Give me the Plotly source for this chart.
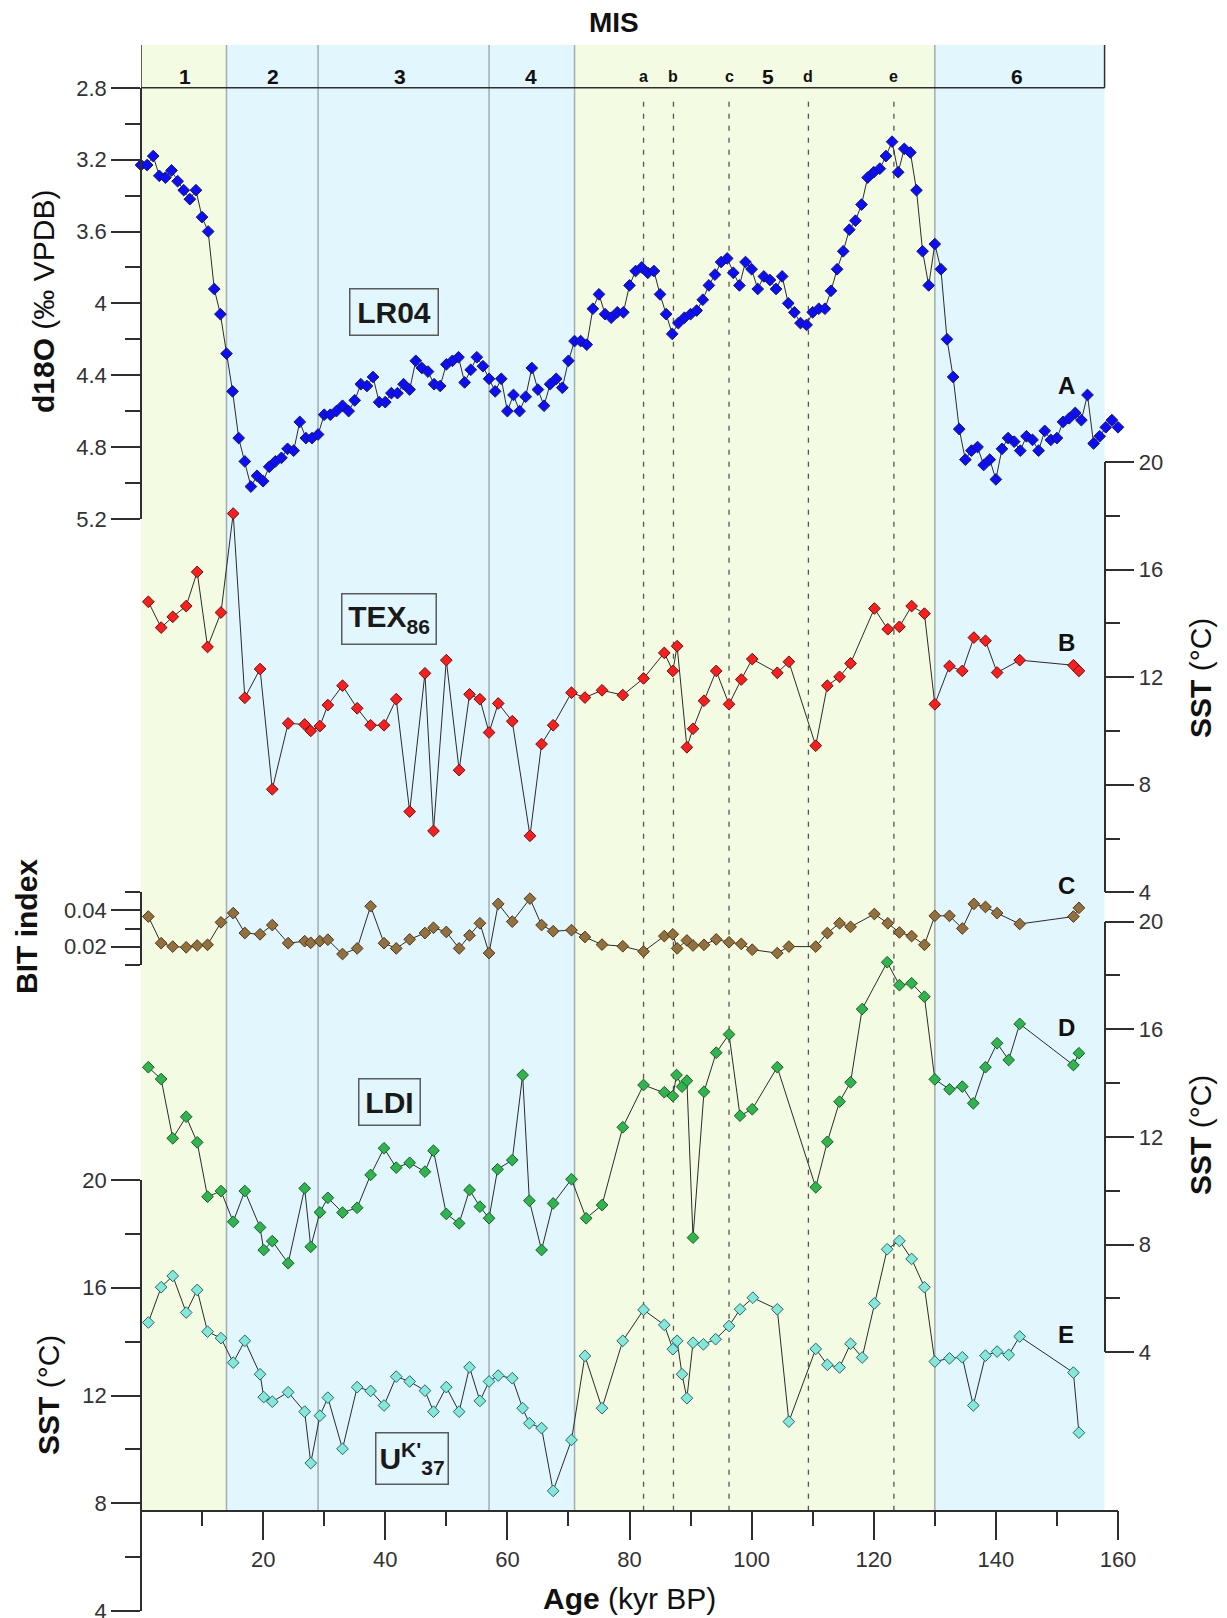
import plotly.graph_objects as go

# ---------------- data ----------------
d18o_age = [0, 1, 2, 3, 4, 5, 6, 7, 8, 9, 10, 11, 12, 13, 14, 15, 16, 17, 18, 19,
            20, 21, 22, 23, 24, 25, 26, 27, 28, 29, 30, 31, 32, 33, 34, 35, 36, 37, 38, 39,
            40, 41, 42, 43, 44, 45, 46, 47, 48, 49, 50, 51, 52, 53, 54, 55, 56, 57, 58, 59,
            60, 61, 62, 63, 64, 65, 66, 67, 68, 69, 70, 71, 72, 73, 74, 75, 76, 77, 78, 79,
            80, 81, 82, 83, 84, 85, 86, 87, 88, 89, 90, 91, 92, 93, 94, 95, 96, 97, 98, 99,
            100, 101, 102, 103, 104, 105, 106, 107, 108, 109, 110, 111, 112, 113, 114, 115,
            116, 117, 118, 119, 120, 121, 122, 123, 124, 125, 126, 127, 128, 129, 130, 131,
            132, 133, 134, 135, 136, 137, 138, 139, 140, 141, 142, 143, 144, 145, 146, 147,
            148, 149, 150, 151, 152, 153, 154, 155, 156, 157, 158, 159, 160]
d18o_val = [3.23, 3.23, 3.18, 3.29, 3.30, 3.26, 3.32, 3.37, 3.42, 3.37, 3.52, 3.60, 3.92, 4.06,
            4.28, 4.49, 4.75, 4.88, 5.02, 4.96, 4.99, 4.91, 4.88, 4.86, 4.81, 4.82, 4.66, 4.75,
            4.75, 4.73, 4.62, 4.62, 4.60, 4.57, 4.60, 4.54, 4.45, 4.46, 4.41, 4.55, 4.55, 4.50,
            4.50, 4.45, 4.48, 4.32, 4.36, 4.38, 4.45, 4.46, 4.34, 4.32, 4.30, 4.44, 4.37, 4.30,
            4.35, 4.42, 4.49, 4.42, 4.60, 4.51, 4.60, 4.52, 4.36, 4.48, 4.57, 4.45, 4.42, 4.47,
            4.32, 4.21, 4.21, 4.23, 4.03, 3.95, 4.06, 4.08, 4.05, 4.05, 3.90, 3.82, 3.80, 3.83,
            3.82, 3.95, 4.06, 4.17, 4.11, 4.08, 4.06, 4.04, 3.98, 3.90, 3.84, 3.77, 3.75, 3.83,
            3.90, 3.77, 3.81, 3.92, 3.85, 3.87, 3.92, 3.85, 4.00, 4.05, 4.11, 4.12, 4.05, 4.03,
            4.03, 3.93, 3.81, 3.71, 3.59, 3.54, 3.45, 3.30, 3.27, 3.25, 3.18, 3.10, 3.27, 3.14,
            3.16, 3.37, 3.71, 3.90, 3.67, 3.81, 4.20, 4.41, 4.70, 4.87, 4.82, 4.80, 4.90, 4.87,
            4.98, 4.81, 4.75, 4.77, 4.82, 4.74, 4.76, 4.82, 4.71, 4.76, 4.75, 4.66, 4.64, 4.61,
            4.65, 4.51, 4.78, 4.74, 4.69, 4.65, 4.69]

gdgt_age = [1.2, 3.3, 5.2, 7.4, 9.2, 10.9, 13.1, 15.1, 17.0, 19.5, 21.5, 24.1, 26.8, 27.8,
            29.3, 30.6, 33.0, 35.4, 37.6, 39.8, 41.8, 44.0, 46.5, 47.9, 50.0, 52.1, 53.8, 55.5,
            57.0, 58.5, 60.8, 63.7, 65.6, 67.5, 70.5, 72.7, 75.5, 78.9, 82.3, 85.7, 87.1, 87.8,
            89.4, 90.4, 92.2, 94.2, 96.3, 98.3, 100.1, 104.2, 106.1, 110.5, 112.4, 114.4, 116.2,
            120.1, 122.3, 124.2, 126.2, 128.3, 130.0, 132.4, 134.5, 136.4, 138.3, 140.2, 143.9,
            152.7, 153.6]
tex86_sst = [14.8, 13.84, 14.24, 14.64, 15.91, 13.12, 14.40, 18.08, 11.23, 12.30, 7.83, 10.28,
             10.24, 10.00, 10.18, 10.96, 11.68, 10.84, 10.21, 10.21, 11.18, 7.00, 12.14, 6.28,
             12.63, 8.54, 11.36, 11.18, 9.94, 11.02, 10.36, 6.10, 9.51, 10.21, 11.42, 11.24,
             11.51, 11.33, 11.95, 12.90, 12.23, 13.15, 9.39, 10.08, 11.12, 12.23, 10.99, 11.91,
             12.67, 12.16, 12.57, 9.45, 11.68, 12.01, 12.51, 14.55, 13.78, 13.87, 14.64, 14.36,
             10.99, 12.41, 12.23, 13.47, 13.35, 12.17, 12.63, 12.44, 12.23]
bit_index = [0.0366, 0.0219, 0.0200, 0.0196, 0.0206, 0.0210, 0.0334, 0.0385, 0.0275, 0.0268,
             0.0319, 0.0219, 0.0230, 0.0221, 0.0230, 0.0238, 0.0159, 0.0190, 0.0423, 0.0219,
             0.0190, 0.0240, 0.0275, 0.0304, 0.0281, 0.0190, 0.0262, 0.0329, 0.0164, 0.0436,
             0.0338, 0.0465, 0.0319, 0.0285, 0.0291, 0.0253, 0.0211, 0.0202, 0.0173, 0.0258,
             0.0268, 0.0190, 0.0234, 0.0206, 0.0210, 0.0240, 0.0224, 0.0215, 0.0183, 0.0164,
             0.0200, 0.0200, 0.0275, 0.0329, 0.0309, 0.0380, 0.0329, 0.0278, 0.0258, 0.0210,
             0.0370, 0.0370, 0.0300, 0.0436, 0.0419, 0.0385, 0.0325, 0.0366, 0.0414]

ldi_age = [1.2, 3.3, 5.2, 7.4, 9.2, 10.9, 13.1, 15.1, 17.0, 19.5, 20.1, 21.5, 24.1, 26.8, 27.8,
           29.3, 30.6, 33.0, 35.4, 37.6, 39.8, 41.8, 44.0, 46.5, 47.9, 50.0, 52.1, 53.8, 55.5,
           57.0, 58.4, 60.8, 62.5, 63.6, 65.6, 67.5, 70.5, 72.9, 75.5, 78.9, 82.3, 85.7, 87.1,
           87.7, 88.6, 89.4, 90.4, 92.2, 94.2, 96.3, 98.1, 100.1, 104.2, 110.5, 112.4, 114.4,
           116.2, 118.1, 122.2, 124.2, 126.2, 128.3, 130.0, 132.4, 134.5, 136.3, 138.3, 140.2,
           142.1, 143.9, 152.7, 153.6]
ldi_sst = [14.59, 14.15, 11.95, 12.75, 11.80, 9.78, 9.99, 8.85, 9.99, 8.64, 7.80, 8.13, 7.31,
           10.09, 7.92, 9.20, 9.74, 9.19, 9.37, 10.59, 11.58, 10.86, 11.04, 10.71, 11.49, 9.14,
           8.79, 10.03, 9.41, 8.98, 10.80, 11.14, 14.30, 9.63, 7.80, 9.53, 10.43, 8.98, 9.47,
           12.36, 13.93, 13.66, 13.52, 14.30, 13.87, 14.09, 8.26, 13.68, 15.13, 15.81, 12.79,
           13.03, 14.59, 10.13, 11.82, 13.31, 14.03, 16.75, 18.49, 17.64, 17.71, 17.21, 14.14,
           13.77, 13.87, 13.25, 14.59, 15.48, 14.86, 16.20, 14.67, 15.11]

uk37_age = [1.2, 3.3, 5.2, 7.4, 9.2, 10.9, 13.1, 15.1, 17.0, 19.5, 20.1, 21.5, 24.1, 26.8, 27.8,
            29.3, 30.6, 33.0, 35.4, 37.6, 39.8, 41.8, 44.0, 46.5, 47.9, 50.0, 52.1, 53.8, 55.5,
            57.0, 58.5, 60.8, 62.5, 63.6, 65.6, 67.5, 70.5, 72.7, 75.5, 78.9, 82.3, 85.7, 87.1,
            87.8, 88.6, 89.4, 90.4, 92.1, 94.1, 96.3, 98.1, 100.2, 104.2, 106.1, 110.5, 112.4,
            114.4, 116.2, 118.1, 120.1, 122.2, 124.2, 126.2, 128.3, 130.0, 132.4, 134.5, 136.3,
            138.3, 140.2, 142.1, 143.9, 152.7, 153.6]
uk37_sst = [14.71, 16.02, 16.44, 15.08, 15.92, 14.37, 14.13, 13.22, 14.03, 12.79, 11.94, 11.77,
            12.12, 11.40, 9.49, 11.25, 11.92, 10.02, 12.31, 12.17, 11.63, 12.70, 12.52, 12.18,
            11.40, 12.31, 11.40, 13.05, 11.80, 12.52, 12.74, 12.64, 11.53, 10.97, 10.79, 8.46,
            10.35, 13.47, 11.53, 14.03, 15.18, 14.62, 13.72, 14.03, 12.79, 11.90, 13.96, 13.90,
            14.09, 14.58, 15.20, 15.63, 15.20, 11.03, 13.73, 13.14, 13.04, 13.92, 13.41, 15.42,
            17.43, 17.74, 17.07, 16.02, 13.26, 13.38, 13.42, 11.63, 13.48, 13.63, 13.51, 14.19,
            12.85, 10.62]

# Marine isotope stages
mis_start = [0, 14, 29, 57, 71, 130]
mis_end = [14, 29, 57, 71, 130, 157.8]
mis_label = ["1", "2", "3", "4", "5", "6"]
mis_label_age = [7.2, 21.6, 42.4, 63.9, 102.7, 143.5]
mis_warm = [True, False, False, False, True, False]
sub_label = ["a", "b", "c", "d", "e"]
sub_age = [82.3, 87.2, 96.3, 109.3, 123.3]

age_ticks = [20, 40, 60, 80, 100, 120, 140, 160]
age_minor = [10, 30, 50, 70, 90, 110, 130, 150]
d18o_ticks = [2.8, 3.2, 3.6, 4.0, 4.4, 4.8, 5.2]
d18o_ticktext = ["2.8", "3.2", "3.6", "4", "4.4", "4.8", "5.2"]
d18o_minor = [3.0, 3.4, 3.8, 4.2, 4.6, 5.0]
bit_ticks = [0.02, 0.04]
bit_ticktext = ["0.02", "0.04"]
bit_minor = [0.01, 0.03, 0.05]
sst_ticks = [4, 8, 12, 16, 20]
sst_ticktext = ["4", "8", "12", "16", "20"]
sst_minor = [6, 10, 14, 18]

# ---------------- layout geometry ----------------
# the page body adds an 8 px margin, so the figure is drawn 8 px right / down
OFF = 8
W, H = 1227 - OFF, 1618 - OFF
PL, PT, PB = 141, 45, 1611          # plot box in page pixels (left, top, bottom)
PR = 1117.7                         # age 160 in page pixels
ML, MT = PL - OFF, PT - OFF
PW = round(PR - PL)
PH = PB - PT
MR = W - ML - PW
MB = H - MT - PH
AGE_MAX = 160.0


def px(x):
    return (x - PL) / PW


def py(y):
    return (PB - y) / PH


FONT = "Liberation Sans, Arial, sans-serif"
AX = "#2e2e2e"
TICKFONT = dict(family=FONT, size=22, color="#333333")

x_axis_y = py(1510.7)
right_pos = 157.8 / AGE_MAX


def yaxis(dom, rng, tv, tt, mv, side, pos):
    return dict(domain=dom, range=rng, anchor="free", position=pos, side=side,
                showline=True, linecolor=AX, linewidth=1.5,
                ticks="outside", ticklen=29, tickwidth=1.5, tickcolor=AX,
                tickmode="array", tickvals=tv, ticktext=tt, tickfont=TICKFONT,
                ticklabeloverflow="allow",
                minor=dict(tickmode="array", tickvals=mv, ticks="outside",
                           ticklen=15, tickwidth=1.5, tickcolor=AX),
                showgrid=False, zeroline=False, automargin=False, fixedrange=True)


fig = go.Figure()


def series(x, y, ax, fill, edge):
    fig.add_trace(go.Scatter(
        x=x, y=y, xaxis="x", yaxis=ax, mode="lines+markers",
        line=dict(color="#2b2b2b", width=1),
        marker=dict(symbol="diamond", size=9, color=fill, line=dict(color=edge, width=1)),
        cliponaxis=False, showlegend=False, hoverinfo="skip"))


series(d18o_age, d18o_val, "y", "#0c0cff", "#1a1a55")
series(gdgt_age, tex86_sst, "y2", "#ff1c1c", "#5a1515")
series(gdgt_age, bit_index, "y3", "#94703c", "#4a3820")
series(ldi_age, ldi_sst, "y4", "#2fb54e", "#1d5a2a")
series(uk37_age, uk37_sst, "y5", "#84e8d8", "#2a6470")

shapes = []
for s, e, warm in zip(mis_start, mis_end, mis_warm):
    shapes.append(dict(type="rect", xref="x", yref="paper", x0=s, x1=e, y0=x_axis_y, y1=1,
                       fillcolor="#f4fbe3" if warm else "#e2f6fd", line=dict(width=0),
                       layer="below"))
for b in mis_start[1:]:
    shapes.append(dict(type="line", xref="x", yref="paper", x0=b, x1=b, y0=x_axis_y, y1=1,
                       line=dict(color="#a0adb2", width=1.5), layer="below"))
for a in sub_age:
    shapes.append(dict(type="line", xref="x", yref="paper", x0=a, x1=a, y0=x_axis_y,
                       y1=py(96), line=dict(color="#555555", width=1.3, dash="5px,7px"),
                       layer="below"))
# MIS header frame
hdr = py(87.8)
shapes.append(dict(type="line", xref="x", yref="paper", x0=0, x1=mis_end[-1], y0=hdr, y1=hdr,
                   line=dict(color=AX, width=1.5)))
shapes.append(dict(type="line", xref="x", yref="paper", x0=0, x1=0, y0=hdr, y1=1,
                   line=dict(color=AX, width=1.5)))
shapes.append(dict(type="line", xref="x", yref="paper", x0=mis_end[-1], x1=mis_end[-1],
                   y0=hdr, y1=1, line=dict(color=AX, width=1.5)))

ann = []


def text(t, x, y, size, xref="paper", angle=0, color="#111111", **kw):
    d = dict(text=t, x=x, y=y, xref=xref, yref="paper", showarrow=False, textangle=angle,
             font=dict(family=FONT, size=size, color=color), xanchor="center",
             yanchor="middle")
    d.update(kw)
    ann.append(d)


text("<b>MIS</b>", px(613.6), py(22.7), 28)
for lab, a in zip(mis_label, mis_label_age):
    text("<b>%s</b>" % lab, a, py(76), 21, xref="x")
for lab, a in zip(sub_label, sub_age):
    text("<b>%s</b>" % lab, a, py(76), 16, xref="x")

for lab, yy in zip(["A", "B", "C", "D", "E"], [385, 642, 885, 1027, 1334]):
    text("<b>%s</b>" % lab, px(1066), py(yy), 24)


def boxed(t, cx, cy, w, h):
    text(t, px(cx), py(cy), 30, bordercolor="#5a5a5a", borderwidth=1.5, borderpad=2,
         width=w, height=h, color="#1a1a1a")


boxed("<b>LR04</b>", 394, 311.6, 83, 41)
boxed("<b>TEX<sub>86</sub></b>", 388.7, 619, 89, 45)
boxed("<b>LDI</b>", 389, 1102, 56, 41)
boxed("<b>U<sup>K'</sup><sub>37</sub></b>", 411.6, 1458.8, 67, 46)

text("<b>d18O</b> (‰ VPDB)", px(44), py(302), 30, angle=-90)
text("<b>BIT index</b>", px(26), py(927), 30, angle=-90)
text("<b>SST</b> (°C)", px(1200), py(678), 30, angle=-90)
text("<b>SST</b> (°C)", px(1200), py(1135), 30, angle=-90)
text("<b>SST</b> (°C)", px(48), py(1395), 30, angle=-90)
text("<b>Age</b> (kyr BP)", px(629), py(1598), 30)

fig.update_layout(
    width=W, height=H,
    margin=dict(l=ML, r=MR, t=MT, b=MB, pad=0),
    paper_bgcolor="white", plot_bgcolor="rgba(0,0,0,0)",
    font=dict(family=FONT, color="#222222"),
    showlegend=False,
    xaxis=dict(domain=[0, 1], range=[0, AGE_MAX], anchor="free", position=x_axis_y,
               showline=True, linecolor=AX, linewidth=1.5,
               ticks="outside", ticklen=29, tickwidth=1.5, tickcolor=AX,
               tickmode="array", tickvals=age_ticks, ticktext=[str(t) for t in age_ticks],
               tickfont=TICKFONT, ticklabeloverflow="allow",
               minor=dict(tickmode="array", tickvals=age_minor, ticks="outside", ticklen=15,
                          tickwidth=1.5, tickcolor=AX),
               showgrid=False, zeroline=False, automargin=False, fixedrange=True),
    yaxis=yaxis([py(518.9), py(87.8)], [5.2, 2.8], d18o_ticks, d18o_ticktext, d18o_minor,
                "left", 0),
    yaxis2=yaxis([py(892.3), py(461.9)], [4, 20], sst_ticks, sst_ticktext, sst_minor,
                 "right", right_pos),
    yaxis3=yaxis([py(964.7), py(892.3)], [0.01, 0.05], bit_ticks, bit_ticktext, bit_minor,
                 "left", 0),
    yaxis4=yaxis([py(1352.3), py(921.6)], [4, 20], sst_ticks, sst_ticktext, sst_minor,
                 "right", right_pos),
    yaxis5=yaxis([0, py(1180)], [4, 20], sst_ticks, sst_ticktext, sst_minor, "left", 0),
    shapes=shapes,
    annotations=ann,
)

fig.write_html("out.html")
